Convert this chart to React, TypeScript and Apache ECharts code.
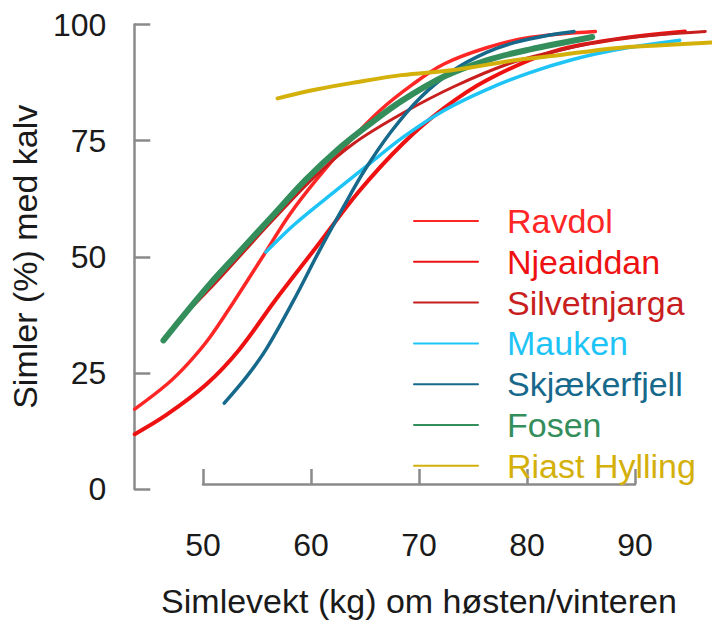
import React, { useEffect, useRef } from "react";
import * as echarts from "echarts";

// Fitted curves: share of females (%) with calf against female weight (kg)
const ravdol: [number, number][] = [
  [43, 17.2], [46, 22.5], [48, 27], [50, 32.5], [52.4, 40.7], [55, 50], [57.5, 59],
  [60, 66.5], [63, 74.5], [66, 81.5], [69, 87], [72, 91.5], [76, 95], [80, 97.2], [86.2, 98.5],
];
const njeaiddan: [number, number][] = [
  [43, 11.8], [46, 16], [49.7, 22.5], [52.8, 30], [56.2, 40.7], [60, 52], [64, 64],
  [68.2, 74.5], [72, 82], [76, 88], [82, 94], [88, 96.8], [94.6, 98.5],
];
const silvetnjarga: [number, number][] = [
  [47, 36], [50, 43], [53, 50.5], [56, 58], [60, 67.5], [63.6, 74.5], [68.2, 81],
  [72.9, 86.6], [78, 91.5], [82, 94], [88, 96.8], [96.5, 98.5],
];
const mauken: [number, number][] = [
  [55.3, 51], [58, 57], [62, 64.5], [65, 70], [68.2, 75.8], [72, 81.5], [76, 86],
  [80, 89.6], [84, 92.4], [88, 94.5], [94.1, 96.6],
];
const skjaekerfjell: [number, number][] = [
  [51.4, 18.5], [53.5, 24.2], [55.3, 30], [57.9, 40.6], [60.25, 51], [62.5, 60.4],
  [64.5, 68.4], [67, 76.8], [69.8, 84.3], [73, 90.3], [76, 94], [78.6, 96.1], [82.1, 97.8], [84.2, 98.5],
];
const fosen: [number, number][] = [
  [45.7, 32], [48, 38.5], [50, 44], [53, 51.5], [56, 59], [59, 66.5], [62, 73],
  [65, 78.5], [68, 83.5], [72, 88.8], [76, 92.3], [80, 94.6], [85.9, 97.3],
];
const riastHylling: [number, number][] = [
  [56.4, 84.1], [60, 86], [63.6, 87.5], [68, 89.1], [72.9, 90.2], [78.6, 92.3],
  [82.1, 93.2], [88, 94.9], [92, 95.5], [97.1, 96.1],
];

const seriesNames = [
  "Ravdol", "Njeaiddan", "Silvetnjarga", "Mauken", "Skjækerfjell", "Fosen", "Riast Hylling",
];
const seriesData = [ravdol, njeaiddan, silvetnjarga, mauken, skjaekerfjell, fosen, riastHylling];
const seriesColors = ["#FF2626", "#EE1111", "#C81E1E", "#1EC4F5", "#17698C", "#348E5C", "#D4B00A"];
const seriesWidths = [3.5, 4, 3, 3.5, 3.5, 6, 4];

// Weight ticks shown on the bottom axis
const xTickMin = 50;
const xTickMax = 90;
const xTickStep = 10;

// Plotting range of the curves (wider than the drawn weight axis)
const xRangeMin = 42.963;
const xRangeMax = 97.13;

const FONT = "'Liberation Sans', Arial, Helvetica, sans-serif";
const AXIS_GREY = "#8a8a8a";

export default function App() {
  const ref = useRef<HTMLDivElement>(null);

  useEffect(() => {
    if (!ref.current) return;
    const chart = echarts.init(ref.current, null, { renderer: "svg" });

    const series = seriesNames.map((name, i) => ({
      name,
      type: "line",
      xAxisIndex: 0,
      yAxisIndex: 0,
      data: seriesData[i],
      smooth: 0.35,
      symbol: "none",
      lineStyle: { color: seriesColors[i], width: seriesWidths[i], cap: "round" },
      itemStyle: { color: seriesColors[i] },
      z: 2 + i,
    }));

    chart.setOption({
      animation: false,
      backgroundColor: "#ffffff",
      grid: [
        // curves
        { left: 127, top: 24.5, width: 585, height: 464.5, containLabel: false },
        // detached weight axis
        { left: 203, top: 24.5, width: 432, height: 464.5, containLabel: false },
      ],
      xAxis: [
        {
          type: "value",
          gridIndex: 0,
          min: xRangeMin,
          max: xRangeMax,
          show: false,
        },
        {
          type: "value",
          gridIndex: 1,
          min: xTickMin,
          max: xTickMax,
          interval: xTickStep,
          offset: 19,
          name: "Simlevekt (kg) om høsten/vinteren",
          nameLocation: "middle",
          nameGap: 81,
          nameTextStyle: { fontFamily: FONT, fontSize: 34, color: "#1a1a1a" },
          axisLine: { show: true, lineStyle: { color: AXIS_GREY, width: 2.5 } },
          axisTick: { show: true, inside: true, length: 15, lineStyle: { color: AXIS_GREY, width: 2.5 } },
          axisLabel: { fontFamily: FONT, fontSize: 32, color: "#1a1a1a", margin: 26 },
          splitLine: { show: false },
        },
      ],
      yAxis: [
        {
          type: "value",
          gridIndex: 0,
          min: 0,
          max: 100,
          interval: 25,
          name: "Simler (%) med kalv",
          nameLocation: "middle",
          nameGap: 73,
          nameTextStyle: { fontFamily: FONT, fontSize: 34, color: "#1a1a1a" },
          axisLine: { show: true, lineStyle: { color: AXIS_GREY, width: 2.5 } },
          axisTick: { show: true, inside: true, length: 16, lineStyle: { color: AXIS_GREY, width: 2.5 } },
          axisLabel: { fontFamily: FONT, fontSize: 32, color: "#1a1a1a", margin: 28 },
          splitLine: { show: false },
        },
        {
          type: "value",
          gridIndex: 1,
          min: 0,
          max: 100,
          show: false,
        },
      ],
      legend: {
        orient: "vertical",
        left: 413,
        top: 203,
        padding: 0,
        itemWidth: 64,
        itemHeight: 14,
        itemGap: 4.8,
        selectedMode: false,
        itemStyle: { opacity: 0 },
        textStyle: { fontFamily: FONT, fontSize: 34, lineHeight: 36, padding: [0, 0, 0, 24] },
        data: seriesNames.map((name, i) => ({
          name,
          textStyle: { color: seriesColors[i] },
        })),
      },
      series,
    });

    return () => chart.dispose();
  }, []);

  return (
    <div
      ref={ref}
      style={{ position: "absolute", left: 0, top: 0, width: 712, height: 623 }}
    />
  );
}
